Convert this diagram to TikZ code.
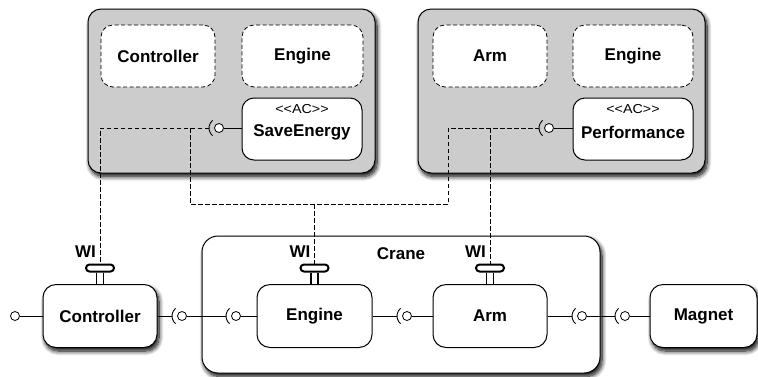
\documentclass[tikz,border=0pt]{standalone}
\usepackage{fontspec}
\setmainfont{Liberation Sans}
\usetikzlibrary{shadows.blur,calc}
\definecolor{boxgray}{RGB}{204,204,204}
\begin{document}
\begin{tikzpicture}[x=1pt,y=-1pt,
  lbl/.style={font=\bfseries\fontsize{17}{20}\selectfont},
  shad/.style={blur shadow={shadow xshift=2pt, shadow yshift=-3.5pt, shadow blur steps=10, shadow blur radius=4.5pt, shadow opacity=100}},
  outerbox/.style={draw, line width=1pt, fill=boxgray, rounded corners=13pt,
     minimum width=287pt, minimum height=164pt, inner sep=0pt, shad},
  partbox/.style={draw, fill=white, line width=0.8pt, dash pattern=on 4pt off 2.5pt,
     rounded corners=12pt, minimum height=62pt, inner sep=0pt, lbl},
  acbox/.style={draw, fill=white, line width=1pt, rounded corners=12pt,
     minimum width=120pt, minimum height=62pt, inner sep=0pt},
  comp/.style={draw, fill=white, line width=1pt, rounded corners=13pt,
     minimum height=63pt, inner sep=0pt, lbl},
  ball/.style={circle, draw, fill=white, line width=0.8pt, minimum size=9pt, inner sep=0pt},
  wire/.style={line width=0.8pt},
  sock/.style={line width=0.9pt},
  dline/.style={line width=0.8pt, dash pattern=on 4.5pt off 2.5pt},
  wipill/.style={draw, fill=white, line width=2pt, rounded corners=3.5pt,
     minimum width=28pt, minimum height=7pt, inner sep=0pt},
  stem/.style={line width=1.3pt},
  wilbl/.style={lbl, anchor=base east, inner sep=0pt},
  aclbl/.style={font=\fontsize{13}{15}\selectfont}
]
\useasboundingbox (0,0) rectangle (758,376);

% ---------- top gray boxes ----------
\node[outerbox] (g1) at (231.5,91) {};
\node[outerbox] (g2) at (561.5,91) {};

\node[partbox, minimum width=114pt] (p1) at (158,56) {Controller};
\node[partbox, minimum width=121pt] (p2) at (302.5,56) {Engine};
\node[acbox] (se) at (302,129) {};
\node[aclbl] at ($(se.north)+(0,12)$) {\scalebox{1.1}[1]{<\kern0pt<AC>\kern0pt>}};
\node[lbl] at ($(se.center)+(0,3)$) {SaveEnergy};

\node[partbox, minimum width=114pt] (p3) at (490,56) {Arm};
\node[partbox, minimum width=120pt] (p4) at (633,56) {Engine};
\node[acbox] (pf) at (633,129) {};
\node[aclbl] at ($(pf.north)+(0,12)$) {\scalebox{1.1}[1]{<\kern0pt<AC>\kern0pt>}};
\node[lbl] at ($(pf.center)+(0,3)$) {Performance};

% balls and sockets (top)
\node[ball] (bSE) at (219,128) {};
\node[ball] (bPF) at (549,128) {};
\coordinate (sSE) at ($(bSE)+(-10,0)$);
\coordinate (sPF) at ($(bPF)+(-10,0)$);
\draw[wire] (bSE.east) -- (bSE -| se.west);
\draw[wire] (bPF.east) -- (bPF -| pf.west);
\draw[sock] (bSE.center) ++(130:10) arc (130:230:10);
\draw[sock] (bPF.center) ++(130:10) arc (130:230:10);

% ---------- bottom row ----------
\node[draw, fill=white, line width=1pt, rounded corners=16pt, minimum width=398pt, minimum height=137pt,
      shad] (crane) at (401,304.5) {};
\node[wilbl, anchor=base] at (401,259) {Crane};

\node[comp, shad, minimum width=114pt] (ctrl) at (100,316) {Controller};
\node[comp, minimum width=115pt] (eng) at (314.5,316) {Engine};
\node[comp, minimum width=114pt] (arm) at (490,316) {Arm};
\node[comp, shad, minimum width=107pt] (mag) at (703.5,316) {Magnet};

\node[ball] (b0) at (15,316) {};
\node[ball] (b1) at (182,316) {};
\node[ball] (b2) at (236,316) {};
\node[ball] (b3) at (407,316) {};
\node[ball] (b4) at (582,316) {};
\node[ball] (b5) at (625,316) {};
\foreach \b in {b1,b2,b3,b4,b5}{
  \coordinate (s\b) at ($(\b)+(-10,0)$);
  \draw[sock] (\b.center) ++(130:10) arc (130:230:10);
}
\draw[wire] (b0.east) -- (ctrl.west);
\draw[wire] (ctrl.east) -- (sb1);
\draw[wire] (b1.east) -- (sb2);
\draw[wire] (b2.east) -- (eng.west);
\draw[wire] (eng.east) -- (sb3);
\draw[wire] (b3.east) -- (arm.west);
\draw[wire] (arm.east) -- (sb4);
\draw[wire] (b4.east) -- (sb5);
\draw[wire] (b5.east) -- (mag.west);

% WI interfaces
\node[wipill] (wiC) at (100,268) {};
\node[wipill] (wiE) at (314.5,268) {};
\node[wipill] (wiA) at (490,268) {};
\foreach \w/\c in {wiC/ctrl,wiE/eng,wiA/arm}{
  \coordinate (L\w) at ($(\w.south)+(-3.5,0)$);
  \coordinate (R\w) at ($(\w.south)+(3.5,0)$);
  \draw[stem] (L\w) -- (L\w |- \c.north);
  \draw[stem] (R\w) -- (R\w |- \c.north);
  \node[wilbl] at ($(\w.north)+(-4,-6)$) {WI};
}

% dashed dependencies
\coordinate (jA) at (190,128);
\coordinate (hB) at (448,204);
\coordinate (jE) at (wiE |- hB);
\coordinate (jArm) at (wiA |- sPF);
\draw[dline] (sSE) -| (wiC.north);
\draw[dline] (jA) |- (hB) |- (sPF);
\draw[dline] (jE) -- (wiE.north);
\draw[dline] (jArm) -- (wiA.north);
\end{tikzpicture}
\end{document}
